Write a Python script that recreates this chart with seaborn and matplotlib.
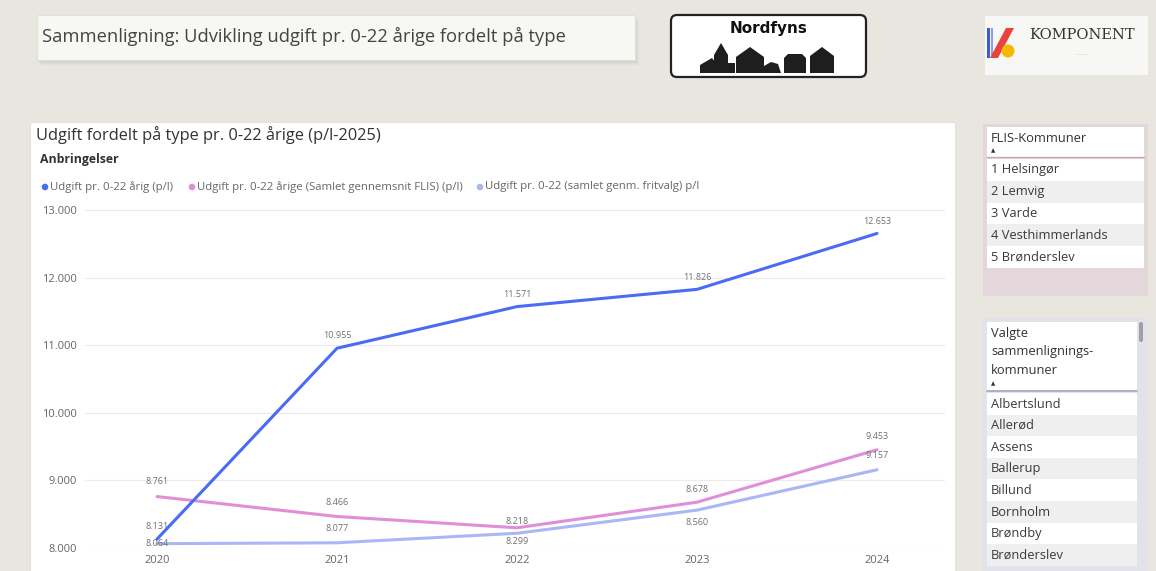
import matplotlib
matplotlib.use("Agg")
import matplotlib.pyplot as plt
import seaborn as sns
import pandas as pd
from matplotlib.patches import Rectangle, FancyBboxPatch, Polygon, Circle

# ---------------- data ----------------
years = [2020, 2021, 2022, 2023, 2024]
own_values = [8131, 10955, 11571, 11826, 12653]          # Udgift pr. 0-22 årig (p/l)
flis_values = [8761, 8466, 8299, 8678, 9453]             # Samlet gennemsnit FLIS
fritvalg_values = [8064, 8077, 8218, 8560, 9157]         # samlet genm. fritvalg
series_names = ["Udgift pr. 0-22 årig (p/l)",
                "Udgift pr. 0-22 årige (Samlet gennemsnit FLIS) (p/l)",
                "Udgift pr. 0-22 (samlet genm. fritvalg) p/l"]
y_ticks = [8000, 9000, 10000, 11000, 12000, 13000]
flis_list = ["1 Helsingør", "2 Lemvig", "3 Varde", "4 Vesthimmerlands", "5 Brønderslev"]
valgte_list = ["Albertslund", "Allerød", "Assens", "Ballerup", "Billund",
               "Bornholm", "Brøndby", "Brønderslev"]

colors = ["#4A6CF4", "#E08FD6", "#A9B7F7"]
BG = "#E8E6DF"

def fmt(v):
    return f"{v:,.0f}".replace(",", ".")

sns.set_theme(style="white")
plt.rcParams["font.family"] = ["Open Sans", "DejaVu Sans"]

W, H = 1156, 571
fig = plt.figure(figsize=(W / 100, H / 100), dpi=100)
fig.patch.set_facecolor(BG)

# background axes in pixel coordinates
bg = fig.add_axes([0, 0, 1, 1])
bg.set_xlim(0, W)
bg.set_ylim(H, 0)
bg.axis("off")
bg.set_zorder(0)

# title box with shadow
for i in range(4):
    bg.add_patch(Rectangle((37 + 1 + i, 15 + 2 + i), 598, 45, facecolor="#808080",
                           alpha=0.05, edgecolor="none"))
bg.add_patch(Rectangle((37, 15), 598, 45, facecolor="#F7F7F4", edgecolor="#E0E0DA", lw=0.8))
bg.text(42, 36, "Sammenligning: Udvikling udgift pr. 0-22 årige fordelt på type",
        fontsize=13.2, color="#444444", va="center", ha="left")

# Nordfyns logo
bg.add_patch(FancyBboxPatch((671, 15), 195, 62, boxstyle="round,pad=0,rounding_size=6",
                            facecolor="white", edgecolor="#222222", lw=1.6))
bg.text(768.5, 29, "Nordfyns", fontsize=11, fontweight="bold", color="#111111",
        ha="center", va="center", family="DejaVu Sans")
houses = [
    [(700, 73), (700, 65), (712, 58), (715, 62), (715, 73)],
    [(714, 73), (714, 55), (721, 43), (728, 55), (728, 73)],
    [(728, 73), (728, 63), (735, 63), (735, 73)],
    [(736, 73), (736, 57), (750, 47), (764, 57), (764, 73)],
    [(764, 73), (764, 66), (771, 62), (778, 64), (781, 73)],
    [(784, 73), (784, 58), (788, 54), (802, 54), (806, 58), (806, 73)],
    [(810, 73), (810, 56), (822, 47), (834, 56), (834, 73)],
]
for h in houses:
    bg.add_patch(Polygon(h, closed=True, facecolor="#1E1E1E", edgecolor="none"))

# Komponent logo
bg.add_patch(Rectangle((985, 16), 163, 59, facecolor="#F7F7F5", edgecolor="none"))
bg.add_patch(Rectangle((987, 28), 2.5, 30, facecolor="#3B5BDB", edgecolor="none"))
bg.add_patch(Rectangle((990.5, 28), 2.5, 30, facecolor="#8E9BEA", edgecolor="none"))
bg.add_patch(Polygon([(990, 58), (1006, 28), (1014, 28), (998, 58)], facecolor="#E8433F",
                     edgecolor="none"))
bg.add_patch(Circle((1008, 51), 6.5, facecolor="#F5B800", edgecolor="none"))
bg.text(1029, 35, "KOMPONENT", fontsize=10.5, color="#333333", family="DejaVu Serif",
        ha="left", va="center")
bg.text(1082, 54, "............", fontsize=3, color="#888888", ha="center", va="center")

# Chart panel
bg.add_patch(Rectangle((30, 122), 925, 460, facecolor="white", edgecolor="#E2E2E2", lw=0.8))
bg.text(36, 135, "Udgift fordelt på type pr. 0-22 årige (p/l-2025)", fontsize=11.8,
        color="#333333", ha="left", va="center")
bg.text(40, 160, "Anbringelser", fontsize=8.8, fontweight="bold", color="#333333",
        ha="left", va="center")

# FLIS box
bg.add_patch(Rectangle((983, 124), 165, 172, facecolor="#E3D7DB", edgecolor="none"))
bg.add_patch(Rectangle((987, 127), 157, 30, facecolor="white", edgecolor="none"))
bg.text(991, 139, "FLIS-Kommuner", fontsize=9.3, color="#333333", ha="left", va="center")
bg.text(991, 151, "▲", fontsize=4, color="#333333", ha="left", va="center")
bg.plot([987, 1144], [157, 157], color="#C9A9B4", lw=1)
for i, name in enumerate(flis_list):
    y0 = 159 + i * 21.8
    bg.add_patch(Rectangle((987, y0), 157, 21.8,
                           facecolor="white" if i % 2 == 0 else "#EFEFEF", edgecolor="none"))
    bg.text(991, y0 + 11, name, fontsize=9.3, color="#3A3A3A", ha="left", va="center")

# Valgte box
bg.add_patch(Rectangle((983, 318), 165, 260, facecolor="#E2E3EA", edgecolor="none"))
bg.add_patch(Rectangle((987, 322), 150, 68, facecolor="white", edgecolor="none"))
bg.text(991, 333, "Valgte", fontsize=9.3, color="#333333", ha="left", va="center")
bg.text(991, 352, "sammenlignings-", fontsize=9.3, color="#333333", ha="left", va="center")
bg.text(991, 371, "kommuner", fontsize=9.3, color="#333333", ha="left", va="center")
bg.text(991, 384, "▲", fontsize=4, color="#333333", ha="left", va="center")
bg.plot([987, 1137], [391, 391], color="#9FA6C6", lw=1.2)
bg.add_patch(FancyBboxPatch((1139, 322), 4, 20, boxstyle="round,pad=0,rounding_size=2",
                            facecolor="#A0A0A0", edgecolor="none"))
for i, name in enumerate(valgte_list):
    y0 = 393 + i * 21.6
    bg.add_patch(Rectangle((987, y0), 150, 21.6,
                           facecolor="white" if i % 2 == 0 else "#EFEFEF", edgecolor="none"))
    bg.text(991, y0 + 11, name, fontsize=9.3, color="#3A3A3A", ha="left", va="center")

# ---------------- main chart ----------------
def fr(x0, y0, x1, y1):
    return [x0 / W, 1 - y1 / H, (x1 - x0) / W, (y1 - y0) / H]

ax = fig.add_axes(fr(85, 200, 945, 548))
ax.set_zorder(2)
ax.patch.set_alpha(0)
df = pd.DataFrame({
    "year": years * 3,
    "value": own_values + flis_values + fritvalg_values,
    "series": [series_names[0]] * 5 + [series_names[1]] * 5 + [series_names[2]] * 5,
})
sns.lineplot(data=df, x="year", y="value", hue="series", palette=colors,
             hue_order=series_names, linewidth=2.2, ax=ax, legend=False)
for ln in ax.lines:
    ln.set_clip_on(False)
    ln.set_solid_capstyle("round")
ax.lines[0].set_zorder(5)
ax.lines[1].set_zorder(4)
ax.lines[2].set_zorder(3)

y_per_px = 1000 / 67.6
ax.set_xlim(2020 - 72 / 180, 2024 + 68 / 180)
ax.set_ylim(8000, 13000 + 10 * y_per_px)
ax.set_yticks(y_ticks)
ax.set_yticklabels([fmt(v) for v in y_ticks])
ax.set_xticks(years)
ax.set_xticklabels([str(y) for y in years])
ax.tick_params(axis="both", length=0, labelsize=8, labelcolor="#666666")
ax.tick_params(axis="x", pad=5)
ax.tick_params(axis="y", pad=6)
ax.grid(axis="y", color="#EBEBEB", lw=0.9)
ax.grid(axis="x", visible=False)
for s in ax.spines.values():
    s.set_visible(False)
ax.set_xlabel("")
ax.set_ylabel("")

# data labels (offset in pixels: negative = above, positive = below)
offsets = {
    0: [-13, -13, -12, -12, -12],
    1: [-15, -14, 14, -13, -13],
    2: [0, -14, -12, 12, -14],
}
all_series = [own_values, flis_values, fritvalg_values]
for si, vals in enumerate(all_series):
    for xi, (yr, v) in enumerate(zip(years, vals)):
        off = offsets[si][xi]
        ax.annotate(fmt(v), (yr, v), xytext=(0, -off * 0.72), textcoords="offset points",
                    ha="center", va="center", fontsize=6.5, color="#707070",
                    annotation_clip=False, zorder=6)

# legend
legend_items = [(42, series_names[0], colors[0]),
                (189, series_names[1], colors[1]),
                (477, series_names[2], colors[2])]
for x, name, c in legend_items:
    bg.add_patch(Circle((x + 3, 187), 3.3, facecolor=c, edgecolor="none"))
    bg.text(x + 8, 187, name, fontsize=8.2, color="#666666", ha="left", va="center")

fig.savefig("out.png", dpi=100, facecolor=BG)
